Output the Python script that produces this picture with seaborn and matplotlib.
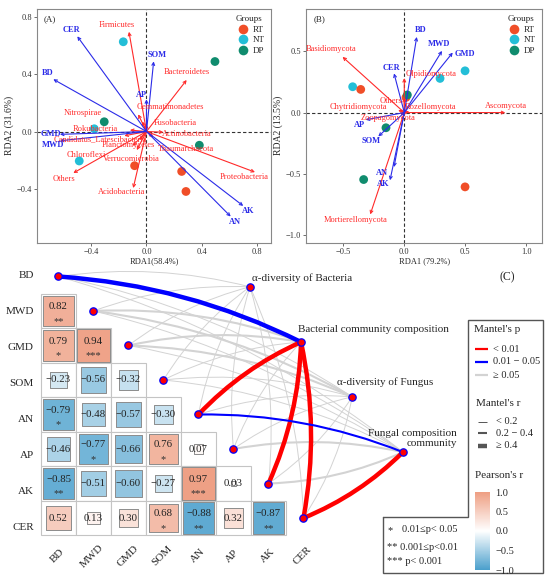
import numpy as np
import pandas as pd
import matplotlib
matplotlib.use('Agg')
import matplotlib.pyplot as plt
import seaborn as sns
from matplotlib.patches import FancyArrowPatch, Rectangle
from matplotlib.colors import LinearSegmentedColormap, Normalize
from matplotlib.colorbar import ColorbarBase

# ---------------- data: RDA of bacteria (A) ----------------
groups_a = ['NT', 'DP', 'DP', 'NT', 'NT', 'RT', 'RT', 'RT', 'DP']
site_x_a = [-0.168, 0.496, -0.306, -0.378, -0.487, -0.086, 0.255, 0.286, 0.383]
site_y_a = [0.627, 0.489, 0.068, 0.019, -0.206, -0.239, -0.279, -0.419, -0.096]

env_a = ['CER', 'BD', 'SOM', 'AP', 'GMD', 'MWD', 'AK', 'AN']
env_x_a = [-0.501, -0.675, 0.052, 0.0, -0.627, -0.627, 0.701, 0.610]
env_y_a = [0.665, 0.365, 0.490, 0.225, -0.020, -0.065, -0.520, -0.594]

taxa_a = ['Firmicutes', 'Bacteroidetes', 'Gemmatimonadetes', 'Nitrospirae', 'Fusobacteria',
          'Actinobacteria', 'Rokubacteria', 'Candidatus_Latescibacteria', 'Planctomycetes',
          'Thaumarchaeota', 'Chloroflexi', 'Verrucomicrobia', 'Proteobacteria', 'Others',
          'Acidobacteria']
taxa_x_a = [-0.127, 0.291, -0.030, -0.060, 0.000, 0.122, -0.120, -0.160, -0.050,
            0.050, -0.100, -0.070, 0.786, -0.530, -0.096]
taxa_y_a = [0.697, 0.360, 0.070, 0.120, 0.050, -0.005, 0.010, -0.030, -0.060,
            -0.040, -0.100, -0.130, -0.284, -0.290, -0.395]

# ---------------- data: RDA of fungi (B) ----------------
groups_b = ['NT', 'RT', 'RT', 'DP', 'NT', 'NT', 'DP', 'DP', 'RT']
site_x_b = [-0.423, -0.357, 0.014, 0.025, 0.293, 0.498, -0.150, -0.333, 0.498]
site_y_b = [0.211, 0.189, 0.124, 0.144, 0.279, 0.341, -0.124, -0.547, -0.607]

env_b = ['BD', 'MWD', 'GMD', 'CER', 'AP', 'SOM', 'AN', 'AK']
env_x_b = [0.102, 0.309, 0.397, -0.084, -0.316, -0.213, -0.084, -0.117]
env_y_b = [0.618, 0.504, 0.490, 0.320, -0.059, -0.195, -0.445, -0.553]

taxa_b = ['Basidiomycota', 'Ascomycota', 'Mortierellomycota', 'Olpidiomycota',
          'Chytridiomycota', 'Rozellomycota', 'Zoopagomycota', 'Others']
taxa_x_b = [-0.506, 0.828, -0.279, 0.0, -0.050, 0.040, -0.030, 0.0]
taxa_y_b = [0.455, 0.0, -0.832, 0.282, 0.020, 0.010, -0.020, 0.120]

# ---------------- data: Pearson correlations (C) ----------------
env_c = ['BD', 'MWD', 'GMD', 'SOM', 'AN', 'AP', 'AK', 'CER']
r_MWD = [0.82]
r_GMD = [0.79, 0.94]
r_SOM = [-0.23, -0.56, -0.32]
r_AN = [-0.79, -0.48, -0.57, -0.30]
r_AP = [-0.46, -0.77, -0.66, 0.76, 0.07]
r_AK = [-0.85, -0.51, -0.60, -0.27, 0.97, 0.03]
r_CER = [0.52, 0.13, 0.30, 0.68, -0.88, 0.32, -0.87]
sig_MWD = ['**']
sig_GMD = ['*', '***']
sig_SOM = ['', '', '']
sig_AN = ['*', '', '', '']
sig_AP = ['', '*', '', '*', '']
sig_AK = ['**', '', '', '', '***', '']
sig_CER = ['', '', '', '*', '**', '', '**']

# Mantel tests: one entry per env variable (BD..CER)
mantel_nodes = ['α-diversity of Bacteria', 'Bacterial community composition',
                'α-diversity of Fungus', 'Fungal composition\ncommunity']
p_alpha_bac = ['>=0.05'] * 8
p_bac_comp = ['0.01-0.05', '>=0.05', '>=0.05', '>=0.05', '<0.01', '>=0.05', '<0.01', '<0.01']
p_alpha_fun = ['>=0.05'] * 8
p_fun_comp = ['>=0.05', '>=0.05', '>=0.05', '>=0.05', '0.01-0.05', '>=0.05', '>=0.05', '<0.01']
r_alpha_bac = ['<0.2'] * 8
r_bac_comp = ['>=0.4', '0.2-0.4', '0.2-0.4', '<0.2', '>=0.4', '<0.2', '>=0.4', '>=0.4']
r_alpha_fun = ['<0.2', '0.2-0.4', '0.2-0.4', '<0.2', '<0.2', '<0.2', '<0.2', '<0.2']
r_fun_comp = ['<0.2', '<0.2', '<0.2', '<0.2', '0.2-0.4', '0.2-0.4', '0.2-0.4', '>=0.4']

# ---------------- style ----------------
sns.set_theme(style='ticks')
plt.rcParams['font.family'] = ['Liberation Serif', 'DejaVu Serif']
group_pal = {'RT': '#F04E28', 'NT': '#23BED7', 'DP': '#108C6E'}
RED = '#FF2A2A'
BLUE = '#2B2BE8'

fig = plt.figure(figsize=(5.5, 5.81), dpi=100)


def rda_panel(ax, pts, env_df, sp_df, lab_env, lab_sp, xlim, ylim, ticks_x, ticks_y, xlab, ylab, tag):
    sns.scatterplot(data=pts, x='x', y='y', hue='group', hue_order=['RT', 'NT', 'DP'],
                    palette=group_pal, s=40, edgecolor='none', ax=ax, zorder=2)
    ax.axhline(0, color='#333333', lw=0.8, ls=(0, (3, 2)), zorder=1)
    ax.axvline(0, color='#333333', lw=0.8, ls=(0, (3, 2)), zorder=1)
    for df, labs, col, weight in [(sp_df, lab_sp, RED, 'normal'), (env_df, lab_env, BLUE, 'bold')]:
        for (_, row), (lx, ly) in zip(df.iterrows(), labs):
            ax.annotate('', xy=(row['x'], row['y']), xytext=(0, 0),
                        arrowprops=dict(arrowstyle='->', color=col, lw=0.8,
                                        shrinkA=0, shrinkB=0, mutation_scale=5), zorder=3)
            ax.text(lx, ly, row['name'], color=col, fontsize=6, fontweight=weight,
                    ha='center', va='center', zorder=4)
    ax.set_xlim(xlim)
    ax.set_ylim(ylim)
    ax.set_xticks(ticks_x)
    ax.set_yticks(ticks_y)
    ax.set_xticklabels([f'{t:.1f}'.replace('-', '\u2212') for t in ticks_x])
    ax.set_yticklabels([f'{t:.1f}'.replace('-', '\u2212') for t in ticks_y])
    ax.tick_params(labelsize=6, length=2, width=0.6, color='#555555', pad=1.5, labelcolor='#333333')
    for s in ax.spines.values():
        s.set_color('#888888')
        s.set_linewidth(0.8)
        s.set_visible(True)
    ax.set_xlabel(xlab, fontsize=6, labelpad=1)
    ax.set_ylabel(ylab, fontsize=7, labelpad=2)
    ax.text(0.03, 0.975, tag, transform=ax.transAxes, fontsize=6.5, va='top', ha='left')
    sns.move_legend(ax, 'upper right', bbox_to_anchor=(1.0, 1.0), frameon=False, title='Groups',
                    fontsize=6.5, title_fontsize=6.5, handletextpad=0.1, labelspacing=0.25,
                    borderaxespad=0.3, markerscale=1.1)


pts_a = pd.DataFrame({'x': site_x_a, 'y': site_y_a, 'group': groups_a})
env_df_a = pd.DataFrame({'name': env_a, 'x': env_x_a, 'y': env_y_a})
sp_df_a = pd.DataFrame({'name': taxa_a, 'x': taxa_x_a, 'y': taxa_y_a})
lab_env_a = [(-0.542, 0.709), (-0.716, 0.407), (0.078, 0.537), (-0.035, 0.253),
             (-0.692, -0.014), (-0.680, -0.096), (0.738, -0.555), (0.641, -0.630)]
lab_sp_a = [(-0.212, 0.743), (0.291, 0.416), (0.170, 0.173), (-0.458, 0.131), (0.207, 0.056),
            (0.291, -0.016), (-0.373, 0.019), (-0.337, -0.056), (-0.132, -0.096),
            (0.286, -0.119), (-0.433, -0.166), (-0.112, -0.191), (0.709, -0.318),
            (-0.596, -0.330), (-0.180, -0.426)]

pts_b = pd.DataFrame({'x': site_x_b, 'y': site_y_b, 'group': groups_b})
env_df_b = pd.DataFrame({'name': env_b, 'x': env_x_b, 'y': env_y_b})
sp_df_b = pd.DataFrame({'name': taxa_b, 'x': taxa_x_b, 'y': taxa_y_b})
lab_env_b = [(0.134, 0.672), (0.287, 0.563), (0.498, 0.482), (-0.109, 0.368),
             (-0.369, -0.100), (-0.275, -0.233), (-0.180, -0.490), (-0.172, -0.580)]
lab_sp_b = [(-0.596, 0.523), (0.834, 0.057), (-0.402, -0.878), (0.219, 0.312),
            (-0.375, 0.046), (0.219, 0.043), (-0.129, -0.046), (-0.109, 0.095)]

ax_a = fig.add_axes([37 / 550, 1 - 242.7 / 581, 234 / 550, 233.7 / 581])
rda_panel(ax_a, pts_a, env_df_a, sp_df_a, lab_env_a, lab_sp_a, (-0.793, 0.902), (-0.777, 0.856),
          [-0.4, 0.0, 0.4, 0.8], [-0.4, 0.0, 0.4, 0.8], 'RDA1(58.4%)', 'RDA2 (31.6%)', '(A)')

ax_b = fig.add_axes([306.3 / 550, 1 - 242.7 / 581, 236 / 550, 233.7 / 581])
rda_panel(ax_b, pts_b, env_df_b, sp_df_b, lab_env_b, lab_sp_b, (-0.803, 1.131), (-1.063, 0.846),
          [-0.5, 0.0, 0.5, 1.0], [-1.0, -0.5, 0.0, 0.5], 'RDA1 (79.2%)', 'RDA2 (13.5%)', '(B)')

# ---------------- panel C ----------------
cmap = LinearSegmentedColormap.from_list('pr', ['#4A9FCC', '#FFFFFF', '#EE9E82'])
rows = [r_MWD, r_GMD, r_SOM, r_AN, r_AP, r_AK, r_CER]
sigs = [sig_MWD, sig_GMD, sig_SOM, sig_AN, sig_AP, sig_AK, sig_CER]
recs = []
for i, (rr, ss) in enumerate(zip(rows, sigs), start=1):
    for j, (v, s) in enumerate(zip(rr, ss)):
        recs.append({'row': i, 'col': j, 'r': v, 'absr': abs(v), 'sig': s})
cells = pd.DataFrame(recs)

axc = fig.add_axes([0, 0, 1, 331 / 581])
axc.patch.set_alpha(0)

for _, c in cells.iterrows():
    axc.add_patch(Rectangle((c['col'] - 0.5, c['row'] - 0.5), 1, 1, fc='white',
                            ec='#C4C4C4', lw=0.8, zorder=1))
sns.scatterplot(data=cells, x='col', y='row', hue='r', palette=cmap, hue_norm=(-1, 1),
                size='absr', sizes=(0, 600), size_norm=(0, 1), marker='s',
                edgecolor='#8C8C8C', linewidth=0.7, legend=False, ax=axc, zorder=2)
for _, c in cells.iterrows():
    txt = f"{c['r']:.2f}".replace('-', '\u2212')
    if c['sig']:
        axc.text(c['col'], c['row'] - 0.12, txt, ha='center', va='center', fontsize=7.8,
                 color='#222222', zorder=5)
        axc.text(c['col'], c['row'] + 0.3, c['sig'], ha='center', va='center', fontsize=7.5,
                 color='#333333', zorder=5)
    else:
        axc.text(c['col'], c['row'], txt, ha='center', va='center', fontsize=7.8,
                 color='#222222', zorder=5)

# Mantel links
node_x = [5.47, 6.93, 8.39, 9.84]
node_y = [0.30, 1.90, 3.49, 5.09]
bend = [-1, -1, -1, -1, -1, -1, 1, 1]
p_col = {'<0.01': '#FF0000', '0.01-0.05': '#0000FF', '>=0.05': '#D3D3D3'}
r_lw = {'<0.2': 0.7, '0.2-0.4': 1.5, '>=0.4': 3.2}
p_all = [p_alpha_bac, p_bac_comp, p_alpha_fun, p_fun_comp]
r_all = [r_alpha_bac, r_bac_comp, r_alpha_fun, r_fun_comp]
for k in range(len(mantel_nodes)):
    for e in range(len(env_c)):
        pc = p_all[k][e]
        link = FancyArrowPatch((e, e), (node_x[k], node_y[k]), arrowstyle='-',
                               connectionstyle=f'arc3,rad={0.1 * bend[e]}',
                               color=p_col[pc], lw=r_lw[r_all[k][e]], shrinkA=0, shrinkB=0,
                               zorder=3 if pc == '>=0.05' else 4, capstyle='butt')
        axc.add_patch(link)

axc.scatter(range(len(env_c)), range(len(env_c)), s=28, c='red', edgecolors='blue',
            linewidths=0.9, zorder=6)
axc.scatter(node_x, node_y, s=28, c='red', edgecolors='blue', linewidths=0.9, zorder=6)

lab_off = [(0.06, -0.26, 'left'), (-0.09, -0.35, 'left'), (-0.43, -0.43, 'left'), (1.55, -0.39, 'right')]
for k, name in enumerate(mantel_nodes):
    dx, dy, ha = lab_off[k]
    axc.text(node_x[k] + dx, node_y[k] + dy, name, ha=ha, va='center', fontsize=8,
             multialignment='right', linespacing=1.1, zorder=7)

for i, name in enumerate(env_c):
    axc.text(-0.7, i * 36 / 34.5 - 0.04, name, ha='right', va='center', fontsize=8)
    axc.text(i - 0.03, 8.1, name, ha='center', va='center', fontsize=8, rotation=45)

axc.set_xlim(-1.671, 14.043)
axc.set_ylim(8.826, -0.768)
axc.axis('off')

# ---------------- legend panel (pixel layout) ----------------
lay = fig.add_axes([0, 0, 1, 1], zorder=10)
lay.set_xlim(0, 550)
lay.set_ylim(581, 0)
lay.axis('off')
lay.patch.set_alpha(0)
lay.plot([383, 468, 468, 543, 543, 383, 383], [517, 517, 320, 320, 573, 573, 517],
         color='#555555', lw=1.0, solid_joinstyle='miter')
lay.text(507, 277, '(C)', fontsize=8.5, ha='center', va='center')
lay.text(474, 329, "Mantel's p", fontsize=8, ha='left', va='center')
for y, col, lab in [(349, '#FF0000', '< 0.01'), (362, '#0000FF', '0.01 \u2212 0.05'),
                    (375, '#D3D3D3', '\u2265 0.05')]:
    lay.plot([475, 488], [y, y], color=col, lw=1.6, solid_capstyle='butt')
    lay.text(493, y, lab, fontsize=7.5, ha='left', va='center')
lay.text(476, 404, "Mantel's r", fontsize=8, ha='left', va='center')
for y, w, lab in [(422, 0.7, '< 0.2'), (433, 1.5, '0.2 \u2212 0.4'), (446, 3.2, '\u2265 0.4')]:
    lay.plot([478, 487], [y, y], color='#555555', lw=w, solid_capstyle='butt')
    lay.text(496, y, lab, fontsize=7.5, ha='left', va='center')
lay.text(475, 476, "Pearson's r", fontsize=8, ha='left', va='center')
lay.text(388, 531, '*', fontsize=7.5, ha='left', va='center')
lay.text(402, 529, '0.01\u2264p< 0.05', fontsize=7.5, ha='left', va='center')
lay.text(387, 548, '** 0.001\u2264p<0.01', fontsize=7.5, ha='left', va='center')
lay.text(387, 561, '*** p< 0.001', fontsize=7.5, ha='left', va='center')

cax = fig.add_axes([475 / 550, 11 / 581, 15 / 550, 78 / 581], zorder=11)
cb = ColorbarBase(cax, cmap=cmap, norm=Normalize(-1, 1), ticks=[-1, -0.5, 0, 0.5, 1])
cb.outline.set_visible(False)
cb.ax.set_yticklabels(['\u22121.0', '\u22120.5', '0.0', '0.5', '1.0'])
cb.ax.tick_params(labelsize=7.5, length=0, pad=4)

fig.savefig('out.png', dpi=100)
